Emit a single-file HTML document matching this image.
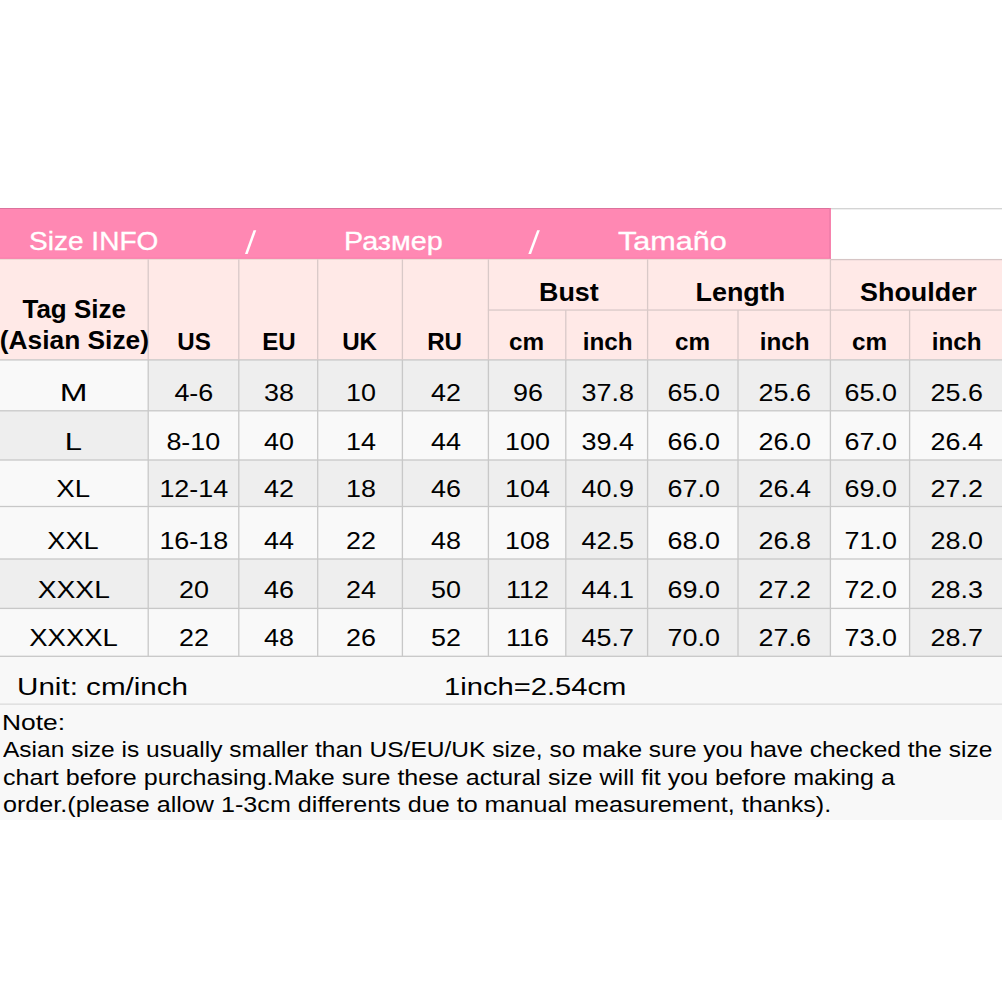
<!DOCTYPE html>
<html><head><meta charset="utf-8"><title>Size chart</title>
<style>
html,body{margin:0;padding:0;background:#fff;overflow:hidden;}
body{width:1002px;height:1002px;position:relative;overflow:hidden;font-family:"Liberation Sans",sans-serif;color:#000;}
.b{position:absolute;}
.t{position:absolute;white-space:nowrap;line-height:1;}
.c{position:absolute;text-align:center;white-space:nowrap;line-height:1;}
.c span,.t span{display:inline-block;transform-origin:50% 50%;}
.t span{transform-origin:0 50%;}
.d{font-size:23.3px;}
.d span{transform:scaleX(1.155);}
.h{font-weight:bold;}
</style></head><body>
<div class="b" style="left:0px;top:208px;width:831px;height:51px;background:#ff88b3"></div>
<div class="b" style="left:0px;top:259px;width:1002px;height:101px;background:#ffe9e7"></div>
<div class="b" style="left:0px;top:656px;width:1002px;height:164px;background:#f8f8f8"></div>
<div class="b" style="left:0px;top:360px;width:148px;height:51px;background:#f9f9f9"></div>
<div class="b" style="left:148px;top:360px;width:91px;height:51px;background:#eeeeee"></div>
<div class="b" style="left:239px;top:360px;width:79px;height:51px;background:#eeeeee"></div>
<div class="b" style="left:318px;top:360px;width:84px;height:51px;background:#eeeeee"></div>
<div class="b" style="left:402px;top:360px;width:86px;height:51px;background:#eeeeee"></div>
<div class="b" style="left:488px;top:360px;width:78px;height:51px;background:#eeeeee"></div>
<div class="b" style="left:566px;top:360px;width:82px;height:51px;background:#eeeeee"></div>
<div class="b" style="left:648px;top:360px;width:90px;height:51px;background:#eeeeee"></div>
<div class="b" style="left:738px;top:360px;width:92px;height:51px;background:#eeeeee"></div>
<div class="b" style="left:830px;top:360px;width:80px;height:51px;background:#eeeeee"></div>
<div class="b" style="left:910px;top:360px;width:92px;height:51px;background:#eeeeee"></div>
<div class="b" style="left:0px;top:411px;width:148px;height:49px;background:#eeeeee"></div>
<div class="b" style="left:148px;top:411px;width:91px;height:49px;background:#f9f9f9"></div>
<div class="b" style="left:239px;top:411px;width:79px;height:49px;background:#f9f9f9"></div>
<div class="b" style="left:318px;top:411px;width:84px;height:49px;background:#f9f9f9"></div>
<div class="b" style="left:402px;top:411px;width:86px;height:49px;background:#f9f9f9"></div>
<div class="b" style="left:488px;top:411px;width:78px;height:49px;background:#f9f9f9"></div>
<div class="b" style="left:566px;top:411px;width:82px;height:49px;background:#f9f9f9"></div>
<div class="b" style="left:648px;top:411px;width:90px;height:49px;background:#f9f9f9"></div>
<div class="b" style="left:738px;top:411px;width:92px;height:49px;background:#f9f9f9"></div>
<div class="b" style="left:830px;top:411px;width:80px;height:49px;background:#f9f9f9"></div>
<div class="b" style="left:910px;top:411px;width:92px;height:49px;background:#f9f9f9"></div>
<div class="b" style="left:0px;top:460px;width:148px;height:47px;background:#f9f9f9"></div>
<div class="b" style="left:148px;top:460px;width:91px;height:47px;background:#eeeeee"></div>
<div class="b" style="left:239px;top:460px;width:79px;height:47px;background:#eeeeee"></div>
<div class="b" style="left:318px;top:460px;width:84px;height:47px;background:#eeeeee"></div>
<div class="b" style="left:402px;top:460px;width:86px;height:47px;background:#eeeeee"></div>
<div class="b" style="left:488px;top:460px;width:78px;height:47px;background:#eeeeee"></div>
<div class="b" style="left:566px;top:460px;width:82px;height:47px;background:#eeeeee"></div>
<div class="b" style="left:648px;top:460px;width:90px;height:47px;background:#eeeeee"></div>
<div class="b" style="left:738px;top:460px;width:92px;height:47px;background:#eeeeee"></div>
<div class="b" style="left:830px;top:460px;width:80px;height:47px;background:#eeeeee"></div>
<div class="b" style="left:910px;top:460px;width:92px;height:47px;background:#eeeeee"></div>
<div class="b" style="left:0px;top:507px;width:148px;height:52px;background:#f9f9f9"></div>
<div class="b" style="left:148px;top:507px;width:91px;height:52px;background:#f9f9f9"></div>
<div class="b" style="left:239px;top:507px;width:79px;height:52px;background:#f9f9f9"></div>
<div class="b" style="left:318px;top:507px;width:84px;height:52px;background:#f9f9f9"></div>
<div class="b" style="left:402px;top:507px;width:86px;height:52px;background:#f9f9f9"></div>
<div class="b" style="left:488px;top:507px;width:78px;height:52px;background:#f9f9f9"></div>
<div class="b" style="left:566px;top:507px;width:82px;height:52px;background:#eeeeee"></div>
<div class="b" style="left:648px;top:507px;width:90px;height:52px;background:#f9f9f9"></div>
<div class="b" style="left:738px;top:507px;width:92px;height:52px;background:#eeeeee"></div>
<div class="b" style="left:830px;top:507px;width:80px;height:52px;background:#f9f9f9"></div>
<div class="b" style="left:910px;top:507px;width:92px;height:52px;background:#eeeeee"></div>
<div class="b" style="left:0px;top:559px;width:148px;height:49px;background:#eeeeee"></div>
<div class="b" style="left:148px;top:559px;width:91px;height:49px;background:#eeeeee"></div>
<div class="b" style="left:239px;top:559px;width:79px;height:49px;background:#eeeeee"></div>
<div class="b" style="left:318px;top:559px;width:84px;height:49px;background:#eeeeee"></div>
<div class="b" style="left:402px;top:559px;width:86px;height:49px;background:#eeeeee"></div>
<div class="b" style="left:488px;top:559px;width:78px;height:49px;background:#eeeeee"></div>
<div class="b" style="left:566px;top:559px;width:82px;height:49px;background:#eeeeee"></div>
<div class="b" style="left:648px;top:559px;width:90px;height:49px;background:#eeeeee"></div>
<div class="b" style="left:738px;top:559px;width:92px;height:49px;background:#eeeeee"></div>
<div class="b" style="left:830px;top:559px;width:80px;height:49px;background:#f9f9f9"></div>
<div class="b" style="left:910px;top:559px;width:92px;height:49px;background:#eeeeee"></div>
<div class="b" style="left:0px;top:608px;width:148px;height:48px;background:#f9f9f9"></div>
<div class="b" style="left:148px;top:608px;width:91px;height:48px;background:#f9f9f9"></div>
<div class="b" style="left:239px;top:608px;width:79px;height:48px;background:#f9f9f9"></div>
<div class="b" style="left:318px;top:608px;width:84px;height:48px;background:#f9f9f9"></div>
<div class="b" style="left:402px;top:608px;width:86px;height:48px;background:#f9f9f9"></div>
<div class="b" style="left:488px;top:608px;width:78px;height:48px;background:#f9f9f9"></div>
<div class="b" style="left:566px;top:608px;width:82px;height:48px;background:#eeeeee"></div>
<div class="b" style="left:648px;top:608px;width:90px;height:48px;background:#eeeeee"></div>
<div class="b" style="left:738px;top:608px;width:92px;height:48px;background:#eeeeee"></div>
<div class="b" style="left:830px;top:608px;width:80px;height:48px;background:#f9f9f9"></div>
<div class="b" style="left:910px;top:608px;width:92px;height:48px;background:#eeeeee"></div>
<svg class="b" style="left:0;top:0" width="1002" height="1002" viewBox="0 0 1002 1002">
<rect x="831.00" y="208.05" width="171.00" height="1.30" fill="#d2d2d2"/>
<rect x="0.00" y="208.00" width="830.40" height="1.00" fill="#dc729c"/>
<rect x="0.00" y="257.80" width="831.00" height="1.00" fill="#f973a6"/>
<rect x="829.40" y="208.00" width="1.00" height="50.80" fill="#ea7aa6"/>
<rect x="0.00" y="258.80" width="830.40" height="1.00" fill="#ecd6d0"/>
<rect x="830.40" y="258.95" width="171.60" height="1.30" fill="#d6c5c5"/>
<rect x="487.90" y="309.40" width="514.10" height="1.30" fill="#d9c9c8"/>
<rect x="0.00" y="359.25" width="1002.00" height="1.30" fill="#c8c8c8"/>
<rect x="0.00" y="410.15" width="1002.00" height="1.30" fill="#c8c8c8"/>
<rect x="0.00" y="459.35" width="1002.00" height="1.30" fill="#c8c8c8"/>
<rect x="0.00" y="505.85" width="1002.00" height="1.30" fill="#c8c8c8"/>
<rect x="0.00" y="558.35" width="1002.00" height="1.30" fill="#c8c8c8"/>
<rect x="0.00" y="607.75" width="1002.00" height="1.30" fill="#c8c8c8"/>
<rect x="0.00" y="655.65" width="1002.00" height="1.30" fill="#c8c8c8"/>
<rect x="0.00" y="703.60" width="1002.00" height="1.00" fill="#d2d2d2"/>
<rect x="147.55" y="259.40" width="1.30" height="100.50" fill="#d9c9c8"/>
<rect x="147.55" y="359.90" width="1.30" height="296.40" fill="#c8c8c8"/>
<rect x="238.15" y="259.40" width="1.30" height="100.50" fill="#d9c9c8"/>
<rect x="238.15" y="359.90" width="1.30" height="296.40" fill="#c8c8c8"/>
<rect x="317.05" y="259.40" width="1.30" height="100.50" fill="#d9c9c8"/>
<rect x="317.05" y="359.90" width="1.30" height="296.40" fill="#c8c8c8"/>
<rect x="401.75" y="259.40" width="1.30" height="100.50" fill="#d9c9c8"/>
<rect x="401.75" y="359.90" width="1.30" height="296.40" fill="#c8c8c8"/>
<rect x="487.75" y="259.40" width="1.30" height="100.50" fill="#d9c9c8"/>
<rect x="487.75" y="359.90" width="1.30" height="296.40" fill="#c8c8c8"/>
<rect x="565.15" y="310.00" width="1.30" height="49.90" fill="#d9c9c8"/>
<rect x="565.15" y="359.90" width="1.30" height="296.40" fill="#c8c8c8"/>
<rect x="646.95" y="259.40" width="1.30" height="100.50" fill="#d9c9c8"/>
<rect x="646.95" y="359.90" width="1.30" height="296.40" fill="#c8c8c8"/>
<rect x="737.35" y="310.00" width="1.30" height="49.90" fill="#d9c9c8"/>
<rect x="737.35" y="359.90" width="1.30" height="296.40" fill="#c8c8c8"/>
<rect x="829.75" y="259.40" width="1.30" height="100.50" fill="#d9c9c8"/>
<rect x="829.75" y="359.90" width="1.30" height="296.40" fill="#c8c8c8"/>
<rect x="908.95" y="310.00" width="1.30" height="49.90" fill="#d9c9c8"/>
<rect x="908.95" y="359.90" width="1.30" height="296.40" fill="#c8c8c8"/>
<polygon points="253.55,230.2 256.25,230.2 247.65,253.9 244.95000000000002,253.9" fill="#fff"/>
<polygon points="537.15,230.2 539.85,230.2 531.0500000000001,253.9 528.35,253.9" fill="#fff"/>
</svg>
<div class="t " style="left:28.5px;top:229.11px;font-size:25.5px;color:#fff;-webkit-text-stroke:0.3px #fff;"><span style="transform:scaleX(1.1)">Size INFO</span></div>
<div class="t " style="left:343.5px;top:229.11px;font-size:25.5px;color:#fff;-webkit-text-stroke:0.3px #fff;"><span style="transform:scaleX(1.127)">Размер</span></div>
<div class="t " style="left:618.0px;top:229.11px;font-size:25.5px;color:#fff;-webkit-text-stroke:0.3px #fff;"><span style="transform:scaleX(1.2)">Tamaño</span></div>
<div class="c h" style="left:0px;width:147.5px;top:296.67px;font-size:25.2px;"><span style="transform:scaleX(1.03)">Tag Size</span></div>
<div class="c h" style="left:0px;width:148.3px;top:328.47px;font-size:25.2px;"><span style="transform:scaleX(1.045)">(Asian Size)</span></div>
<div class="c h" style="left:148px;width:91px;top:330.73px;font-size:23px;"><span style="transform:scaleX(1.05)">US</span></div>
<div class="c h" style="left:239px;width:79px;top:330.73px;font-size:23px;"><span style="transform:scaleX(1.05)">EU</span></div>
<div class="c h" style="left:318px;width:84px;top:330.73px;font-size:23px;"><span style="transform:scaleX(1.05)">UK</span></div>
<div class="c h" style="left:402px;width:86px;top:330.73px;font-size:23px;"><span style="transform:scaleX(1.05)">RU</span></div>
<div class="c h" style="left:489px;width:160px;top:278.99px;font-size:26px;"><span style="transform:scaleX(1.035)">Bust</span></div>
<div class="c h" style="left:649px;width:182px;top:278.99px;font-size:26px;"><span style="transform:scaleX(1.035)">Length</span></div>
<div class="c h" style="left:834px;width:168px;top:278.99px;font-size:26px;"><span style="transform:scaleX(1.035)">Shoulder</span></div>
<div class="c h" style="left:488px;width:78px;top:330.53px;font-size:23px;"><span style="transform:scaleX(1.055)">cm</span></div>
<div class="c h" style="left:567px;width:81px;top:330.53px;font-size:23px;"><span style="transform:scaleX(1.055)">inch</span></div>
<div class="c h" style="left:648px;width:90px;top:330.53px;font-size:23px;"><span style="transform:scaleX(1.055)">cm</span></div>
<div class="c h" style="left:739px;width:91px;top:330.53px;font-size:23px;"><span style="transform:scaleX(1.055)">inch</span></div>
<div class="c h" style="left:830px;width:80px;top:330.53px;font-size:23px;"><span style="transform:scaleX(1.055)">cm</span></div>
<div class="c h" style="left:911px;width:91px;top:330.53px;font-size:23px;"><span style="transform:scaleX(1.055)">inch</span></div>
<div class="c d" style="left:-1px;width:149px;top:382.28px;font-size:23.3px;"><span style="transform:scaleX(1.43)">M</span></div>
<div class="c d" style="left:148px;width:91px;top:382.28px;font-size:23.3px;"><span>4-6</span></div>
<div class="c d" style="left:240.4px;width:77.6px;top:382.28px;font-size:23.3px;"><span>38</span></div>
<div class="c d" style="left:319.4px;width:82.60000000000002px;top:382.28px;font-size:23.3px;"><span>10</span></div>
<div class="c d" style="left:403.4px;width:84.60000000000002px;top:382.28px;font-size:23.3px;"><span>42</span></div>
<div class="c d" style="left:489.4px;width:76.60000000000002px;top:382.28px;font-size:23.3px;"><span>96</span></div>
<div class="c d" style="left:567.4px;width:80.60000000000002px;top:382.28px;font-size:23.3px;"><span>37.8</span></div>
<div class="c d" style="left:649.4px;width:88.60000000000002px;top:382.28px;font-size:23.3px;"><span>65.0</span></div>
<div class="c d" style="left:739.4px;width:90.60000000000002px;top:382.28px;font-size:23.3px;"><span>25.6</span></div>
<div class="c d" style="left:831.4px;width:78.60000000000002px;top:382.28px;font-size:23.3px;"><span>65.0</span></div>
<div class="c d" style="left:911.4px;width:90.60000000000002px;top:382.28px;font-size:23.3px;"><span>25.6</span></div>
<div class="c d" style="left:-1px;width:149px;top:430.78px;font-size:23.3px;"><span style="transform:scaleX(1.33)">L</span></div>
<div class="c d" style="left:148px;width:91px;top:430.78px;font-size:23.3px;"><span>8-10</span></div>
<div class="c d" style="left:240.4px;width:77.6px;top:430.78px;font-size:23.3px;"><span>40</span></div>
<div class="c d" style="left:319.4px;width:82.60000000000002px;top:430.78px;font-size:23.3px;"><span>14</span></div>
<div class="c d" style="left:403.4px;width:84.60000000000002px;top:430.78px;font-size:23.3px;"><span>44</span></div>
<div class="c d" style="left:489.4px;width:76.60000000000002px;top:430.78px;font-size:23.3px;"><span>100</span></div>
<div class="c d" style="left:567.4px;width:80.60000000000002px;top:430.78px;font-size:23.3px;"><span>39.4</span></div>
<div class="c d" style="left:649.4px;width:88.60000000000002px;top:430.78px;font-size:23.3px;"><span>66.0</span></div>
<div class="c d" style="left:739.4px;width:90.60000000000002px;top:430.78px;font-size:23.3px;"><span>26.0</span></div>
<div class="c d" style="left:831.4px;width:78.60000000000002px;top:430.78px;font-size:23.3px;"><span>67.0</span></div>
<div class="c d" style="left:911.4px;width:90.60000000000002px;top:430.78px;font-size:23.3px;"><span>26.4</span></div>
<div class="c d" style="left:-1px;width:149px;top:477.78px;font-size:23.3px;"><span style="transform:scaleX(1.185)">XL</span></div>
<div class="c d" style="left:148px;width:91px;top:477.78px;font-size:23.3px;"><span>12-14</span></div>
<div class="c d" style="left:240.4px;width:77.6px;top:477.78px;font-size:23.3px;"><span>42</span></div>
<div class="c d" style="left:319.4px;width:82.60000000000002px;top:477.78px;font-size:23.3px;"><span>18</span></div>
<div class="c d" style="left:403.4px;width:84.60000000000002px;top:477.78px;font-size:23.3px;"><span>46</span></div>
<div class="c d" style="left:489.4px;width:76.60000000000002px;top:477.78px;font-size:23.3px;"><span>104</span></div>
<div class="c d" style="left:567.4px;width:80.60000000000002px;top:477.78px;font-size:23.3px;"><span>40.9</span></div>
<div class="c d" style="left:649.4px;width:88.60000000000002px;top:477.78px;font-size:23.3px;"><span>67.0</span></div>
<div class="c d" style="left:739.4px;width:90.60000000000002px;top:477.78px;font-size:23.3px;"><span>26.4</span></div>
<div class="c d" style="left:831.4px;width:78.60000000000002px;top:477.78px;font-size:23.3px;"><span>69.0</span></div>
<div class="c d" style="left:911.4px;width:90.60000000000002px;top:477.78px;font-size:23.3px;"><span>27.2</span></div>
<div class="c d" style="left:-1px;width:149px;top:529.78px;font-size:23.3px;"><span style="transform:scaleX(1.165)">XXL</span></div>
<div class="c d" style="left:148px;width:91px;top:529.78px;font-size:23.3px;"><span>16-18</span></div>
<div class="c d" style="left:240.4px;width:77.6px;top:529.78px;font-size:23.3px;"><span>44</span></div>
<div class="c d" style="left:319.4px;width:82.60000000000002px;top:529.78px;font-size:23.3px;"><span>22</span></div>
<div class="c d" style="left:403.4px;width:84.60000000000002px;top:529.78px;font-size:23.3px;"><span>48</span></div>
<div class="c d" style="left:489.4px;width:76.60000000000002px;top:529.78px;font-size:23.3px;"><span>108</span></div>
<div class="c d" style="left:567.4px;width:80.60000000000002px;top:529.78px;font-size:23.3px;"><span>42.5</span></div>
<div class="c d" style="left:649.4px;width:88.60000000000002px;top:529.78px;font-size:23.3px;"><span>68.0</span></div>
<div class="c d" style="left:739.4px;width:90.60000000000002px;top:529.78px;font-size:23.3px;"><span>26.8</span></div>
<div class="c d" style="left:831.4px;width:78.60000000000002px;top:529.78px;font-size:23.3px;"><span>71.0</span></div>
<div class="c d" style="left:911.4px;width:90.60000000000002px;top:529.78px;font-size:23.3px;"><span>28.0</span></div>
<div class="c d" style="left:-1px;width:149px;top:578.78px;font-size:23.3px;"><span style="transform:scaleX(1.21)">XXXL</span></div>
<div class="c d" style="left:148px;width:91px;top:578.78px;font-size:23.3px;"><span>20</span></div>
<div class="c d" style="left:240.4px;width:77.6px;top:578.78px;font-size:23.3px;"><span>46</span></div>
<div class="c d" style="left:319.4px;width:82.60000000000002px;top:578.78px;font-size:23.3px;"><span>24</span></div>
<div class="c d" style="left:403.4px;width:84.60000000000002px;top:578.78px;font-size:23.3px;"><span>50</span></div>
<div class="c d" style="left:489.4px;width:76.60000000000002px;top:578.78px;font-size:23.3px;"><span>112</span></div>
<div class="c d" style="left:567.4px;width:80.60000000000002px;top:578.78px;font-size:23.3px;"><span>44.1</span></div>
<div class="c d" style="left:649.4px;width:88.60000000000002px;top:578.78px;font-size:23.3px;"><span>69.0</span></div>
<div class="c d" style="left:739.4px;width:90.60000000000002px;top:578.78px;font-size:23.3px;"><span>27.2</span></div>
<div class="c d" style="left:831.4px;width:78.60000000000002px;top:578.78px;font-size:23.3px;"><span>72.0</span></div>
<div class="c d" style="left:911.4px;width:90.60000000000002px;top:578.78px;font-size:23.3px;"><span>28.3</span></div>
<div class="c d" style="left:-1px;width:149px;top:627.28px;font-size:23.3px;"><span style="transform:scaleX(1.18)">XXXXL</span></div>
<div class="c d" style="left:148px;width:91px;top:627.28px;font-size:23.3px;"><span>22</span></div>
<div class="c d" style="left:240.4px;width:77.6px;top:627.28px;font-size:23.3px;"><span>48</span></div>
<div class="c d" style="left:319.4px;width:82.60000000000002px;top:627.28px;font-size:23.3px;"><span>26</span></div>
<div class="c d" style="left:403.4px;width:84.60000000000002px;top:627.28px;font-size:23.3px;"><span>52</span></div>
<div class="c d" style="left:489.4px;width:76.60000000000002px;top:627.28px;font-size:23.3px;"><span>116</span></div>
<div class="c d" style="left:567.4px;width:80.60000000000002px;top:627.28px;font-size:23.3px;"><span>45.7</span></div>
<div class="c d" style="left:649.4px;width:88.60000000000002px;top:627.28px;font-size:23.3px;"><span>70.0</span></div>
<div class="c d" style="left:739.4px;width:90.60000000000002px;top:627.28px;font-size:23.3px;"><span>27.6</span></div>
<div class="c d" style="left:831.4px;width:78.60000000000002px;top:627.28px;font-size:23.3px;"><span>73.0</span></div>
<div class="c d" style="left:911.4px;width:90.60000000000002px;top:627.28px;font-size:23.3px;"><span>28.7</span></div>
<div class="t " style="left:16.8px;top:676.13px;font-size:23px;"><span style="transform:scaleX(1.287)">Unit: cm/inch</span></div>
<div class="t " style="left:444px;top:676.13px;font-size:23px;"><span style="transform:scaleX(1.267)">1inch=2.54cm</span></div>
<div class="t " style="left:1.6px;top:711.81px;font-size:22.2px;"><span style="transform:scaleX(1.19)">Note:</span></div>
<div class="t " style="left:2.5px;top:739.21px;font-size:22.2px;"><span style="transform:scaleX(1.105)">Asian size is usually smaller than US/EU/UK size, so make sure you have checked the size</span></div>
<div class="t " style="left:2.5px;top:766.61px;font-size:22.2px;"><span style="transform:scaleX(1.13)">chart before purchasing.Make sure these actural size will fit you before making a</span></div>
<div class="t " style="left:2.5px;top:794.21px;font-size:22.2px;"><span style="transform:scaleX(1.133)">order.(please allow 1-3cm differents due to manual measurement, thanks).</span></div>
</body></html>
